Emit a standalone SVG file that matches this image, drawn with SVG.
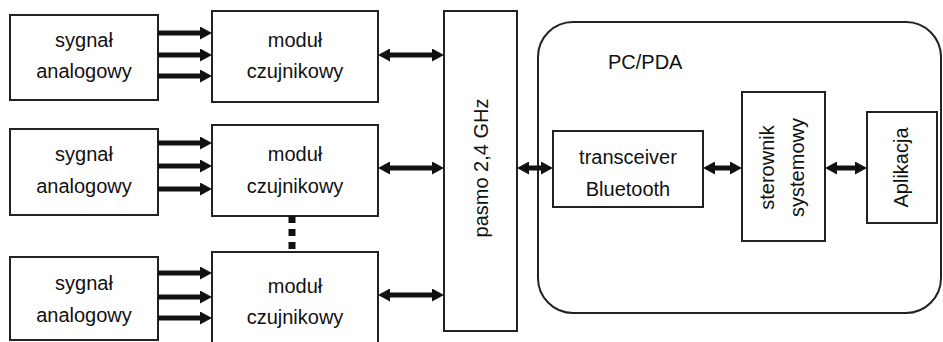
<svg xmlns="http://www.w3.org/2000/svg" width="943" height="342" viewBox="0 0 943 342">
<defs>
<marker id="ah" markerUnits="userSpaceOnUse" markerWidth="12" markerHeight="13" viewBox="0 0 12 13" refX="6" refY="6.5" orient="auto-start-reverse">
<path d="M0,0 L12,6.5 L0,13 Z" fill="#111"/>
</marker>
</defs>
<style>
.box{fill:#fff;stroke:#222;stroke-width:2}
.t{font-family:"Liberation Sans",Arial,sans-serif;font-size:20px;fill:#111;text-anchor:middle}
.a{stroke:#111;stroke-width:5;fill:none;marker-end:url(#ah)}
.d{stroke:#111;stroke-width:5;fill:none;marker-end:url(#ah);marker-start:url(#ah)}
</style>
<rect width="943" height="342" fill="#fff"/>
<g id="pcpda">
<rect class="box" x="538" y="22" width="403" height="291" rx="35" ry="35"/>
<text class="t" x="608" y="69" style="text-anchor:start">PC/PDA</text>
</g>
<g id="sig1"><rect class="box" x="10" y="15" width="148" height="85"/><text class="t" x="84" y="47">sygnał</text><text class="t" x="84" y="78">analogowy</text></g>
<g id="sig2"><rect class="box" x="10" y="129" width="148" height="86"/><text class="t" x="84" y="161">sygnał</text><text class="t" x="84" y="193">analogowy</text></g>
<g id="sig3"><rect class="box" x="10" y="257" width="148" height="83"/><text class="t" x="84" y="290">sygnał</text><text class="t" x="84" y="322">analogowy</text></g>
<g id="mod1"><rect class="box" x="212" y="11" width="166" height="91"/><text class="t" x="295" y="47">moduł</text><text class="t" x="295" y="78">czujnikowy</text></g>
<g id="mod2"><rect class="box" x="212" y="125" width="166" height="91"/><text class="t" x="295" y="161">moduł</text><text class="t" x="295" y="193">czujnikowy</text></g>
<g id="mod3"><rect class="box" x="212" y="252" width="166" height="95"/><text class="t" x="295" y="293">moduł</text><text class="t" x="295" y="324">czujnikowy</text></g>
<g id="pasmo"><rect class="box" x="444" y="11" width="73" height="320"/><text class="t" transform="translate(488,168) rotate(-90)">pasmo 2,4 GHz</text></g>
<g id="trans"><rect class="box" x="553" y="131" width="150" height="76"/><text class="t" x="628" y="164">transceiver</text><text class="t" x="628" y="196">Bluetooth</text></g>
<g id="ster"><rect class="box" x="742" y="92" width="83" height="149"/><text class="t" transform="translate(774,167.5) rotate(-90)">sterownik</text><text class="t" transform="translate(804,167.5) rotate(-90)">systemowy</text></g>
<g id="apl"><rect class="box" x="867" y="112" width="70" height="111"/><text class="t" transform="translate(908,167.5) rotate(-90)">Aplikacja</text></g>
<g id="connectors">
<line class="a" x1="158" y1="33" x2="206" y2="33"/>
<line class="a" x1="158" y1="55" x2="206" y2="55"/>
<line class="a" x1="158" y1="76" x2="206" y2="76"/>
<line class="a" x1="158" y1="143" x2="206" y2="143"/>
<line class="a" x1="158" y1="166" x2="206" y2="166"/>
<line class="a" x1="158" y1="189" x2="206" y2="189"/>
<line class="a" x1="158" y1="273" x2="206" y2="273"/>
<line class="a" x1="158" y1="297" x2="206" y2="297"/>
<line class="a" x1="158" y1="318" x2="206" y2="318"/>
<line class="d" x1="384" y1="55" x2="438" y2="55"/>
<line class="d" x1="384" y1="168" x2="438" y2="168"/>
<line class="d" x1="384" y1="295" x2="438" y2="295"/>
<line class="d" x1="523" y1="168" x2="547" y2="168"/>
<line class="d" x1="709" y1="168" x2="736" y2="168"/>
<line class="d" x1="831" y1="168" x2="861" y2="168"/>
<line x1="292" y1="216" x2="292" y2="252" stroke="#111" stroke-width="7" stroke-dasharray="7,6"/>
</g>
</svg>
